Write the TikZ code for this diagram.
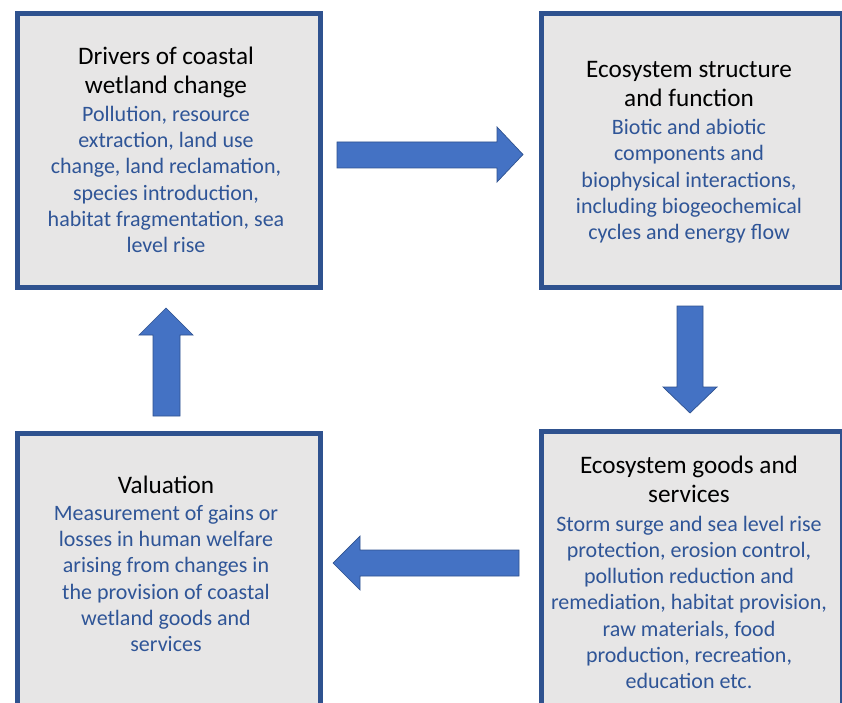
\documentclass[tikz,border=0pt]{standalone}
\usepackage{fontspec}
\setmainfont{Carlito}
\definecolor{boxborder}{HTML}{2F528F}
\definecolor{boxfill}{HTML}{E7E6E6}
\definecolor{bodyblue}{HTML}{2F5597}
\definecolor{arrowfill}{HTML}{4472C4}
\definecolor{arrowline}{HTML}{2F528F}
\tikzset{
  panel/.style={draw=boxborder, fill=boxfill, line width=5pt, inner sep=0pt, anchor=north west},
  bigarrow/.style={fill=arrowfill, draw=arrowline, line width=0.7pt, line join=miter},
  titletext/.style={font=\fontsize{25.2}{29}\selectfont, text=black, align=center, inner sep=0pt, anchor=base},
  bodytext/.style={font=\fontsize{22}{26.2}\selectfont, text=bodyblue, align=center, inner sep=0pt, anchor=base}
}
\begin{document}
\begin{tikzpicture}[x=1pt, y=-1pt]
\useasboundingbox (0,0) rectangle (842,703);
\fill[white] (0,0) rectangle (842,703);
% panels
\node[panel, minimum width=303pt, minimum height=273pt] (drivers) at (14.5,11.5) {};
\node[panel, minimum width=301.5pt, minimum height=273pt] (structure) at (538.5,11.5) {};
\node[panel, minimum width=301.5pt, minimum height=274pt] (goods) at (538.5,428.5) {};
\node[panel, minimum width=303pt, minimum height=290pt] (valuation) at (14.5,430.5) {};
% texts (anchored at the baseline of their last line)
\node[titletext] (t1) at (166,93.5) {Drivers of coastal\\wetland change};
\node[bodytext] (b1) at (166,252.5) {Pollution, resource\\extraction, land use\\change, land reclamation,\\species introduction,\\habitat fragmentation, sea\\level rise};
\node[titletext] (t2) at (689,106.5) {Ecosystem structure\\and function};
\node[bodytext] (b2) at (689,239.5) {Biotic and abiotic\\components and\\biophysical interactions,\\including biogeochemical\\cycles and energy flow};
\node[titletext] (t3) at (689,502.5) {Ecosystem goods and\\services};
\node[bodytext] (b3) at (689,688.5) {Storm surge and sea level rise\\protection, erosion control,\\pollution reduction and\\remediation, habitat provision,\\raw materials, food\\production, recreation,\\education etc.};
\node[titletext] (t4) at (166,493.5) {Valuation};
\node[bodytext] (b4) at (166,651.5) {Measurement of gains or\\losses in human welfare\\arising from changes in\\the provision of coastal\\wetland goods and\\services};
% block arrows
\draw[bigarrow] (337,142) -- (497,142) -- (497,127) -- (523,154.5) -- (497,182) -- (497,168) -- (337,168) -- cycle;
\draw[bigarrow] (677,306) -- (703,306) -- (703,387) -- (717,387) -- (690,413) -- (663,387) -- (677,387) -- cycle;
\draw[bigarrow] (519,550) -- (360,550) -- (360,536) -- (333,563) -- (360,590) -- (360,576) -- (519,576) -- cycle;
\draw[bigarrow] (153,416) -- (153,335) -- (139,335) -- (166,308) -- (193,335) -- (180,335) -- (180,416) -- cycle;
\end{tikzpicture}
\end{document}
